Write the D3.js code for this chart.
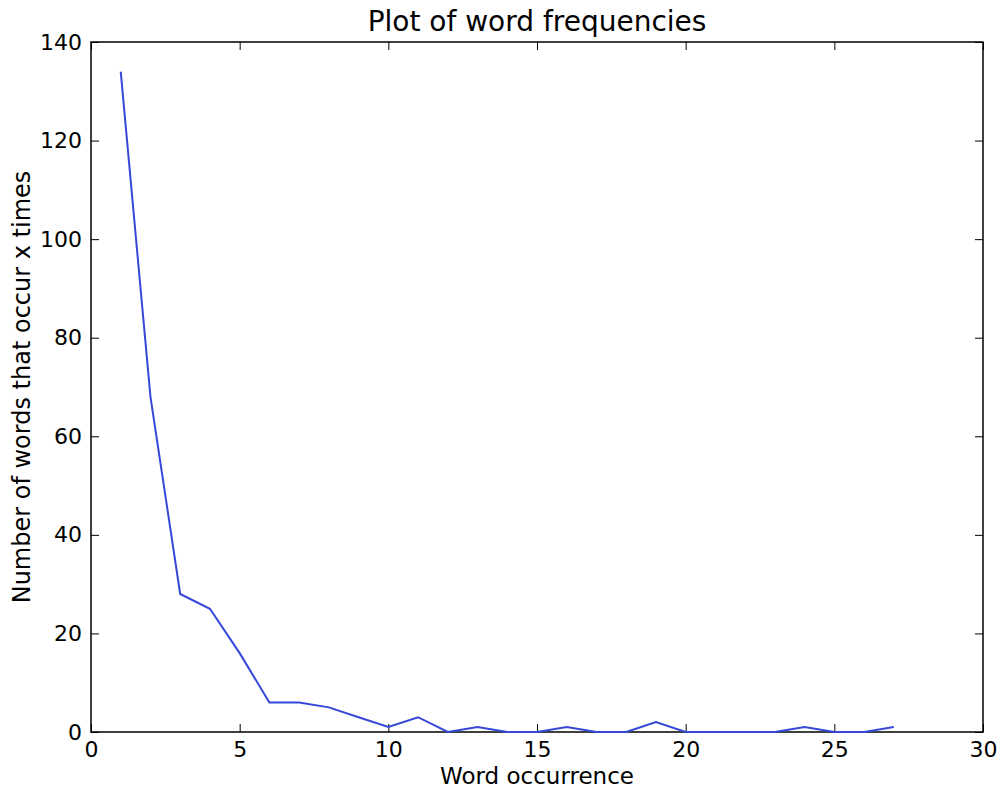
<!DOCTYPE html>
<html>
<head>
<meta charset="utf-8">
<script src="https://cdn.jsdelivr.net/npm/d3@7"></script>
<style>
  body { margin: 0; background: #fff; }
  text { font-family: "DejaVu Sans", sans-serif; fill: #000; }
  .axis path, .axis line { stroke: #000; }
</style>
</head>
<body>
<script>
// word occurrence (x) and how many words occur x times (y)
const occurrence = [1, 2, 3, 4, 5, 6, 7, 8, 9, 10, 11, 12, 13, 14, 15, 16, 17, 18, 19, 20, 21, 22, 23, 24, 25, 26, 27];
const wordCounts = [134, 68, 28, 25, 16, 6, 6, 5, 3, 1, 3, 0, 1, 0, 0, 1, 0, 0, 2, 0, 0, 0, 0, 1, 0, 0, 1];
const xTicks = [0, 5, 10, 15, 20, 25, 30];
const yTicks = [0, 20, 40, 60, 80, 100, 120, 140];

const W = 1000, H = 790;
const m = { top: 42, right: 17, bottom: 58, left: 91 };
const iw = W - m.left - m.right, ih = H - m.top - m.bottom;

const svg = d3.select("body").append("svg")
    .attr("width", W).attr("height", H);

const g = svg.append("g").attr("transform", `translate(${m.left},${m.top})`);

const x = d3.scaleLinear().domain([0, 30]).range([0, iw]);
const y = d3.scaleLinear().domain([0, 140]).range([ih, 0]);

// inward ticks on all four sides, labels only bottom/left
const tick = 8;
g.append("g").attr("class", "axis").attr("transform", `translate(0,${ih})`)
    .call(d3.axisBottom(x).tickValues(xTicks).tickSizeInner(-tick).tickSizeOuter(0).tickPadding(9))
    .call(a => a.selectAll("text").attr("font-size", 22));
g.append("g").attr("class", "axis")
    .call(d3.axisTop(x).tickValues(xTicks).tickSizeInner(-tick).tickSizeOuter(0).tickFormat(""));
g.append("g").attr("class", "axis")
    .call(d3.axisLeft(y).tickValues(yTicks).tickSizeInner(-tick).tickSizeOuter(0).tickPadding(9))
    .call(a => a.selectAll("text").attr("font-size", 22));
g.append("g").attr("class", "axis").attr("transform", `translate(${iw},0)`)
    .call(d3.axisRight(y).tickValues(yTicks).tickSizeInner(-tick).tickSizeOuter(0).tickFormat(""));
g.selectAll(".axis text").attr("font-family", "DejaVu Sans");
g.selectAll(".axis path").remove();

// frame
g.append("rect").attr("width", iw).attr("height", ih)
    .attr("fill", "none").attr("stroke", "#000").attr("stroke-width", 1.5);

// data line
const line = d3.line().x((d, i) => x(occurrence[i])).y(d => y(d));
g.append("path").datum(wordCounts)
    .attr("d", line)
    .attr("fill", "none")
    .attr("stroke", "#3548d8")
    .attr("stroke-width", 2);

// title and axis labels
svg.append("text").attr("x", m.left + iw / 2).attr("y", 31)
    .attr("text-anchor", "middle").attr("font-size", 28)
    .text("Plot of word frequencies");
svg.append("text").attr("x", m.left + iw / 2).attr("y", 784)
    .attr("text-anchor", "middle").attr("font-size", 23)
    .text("Word occurrence");
svg.append("text")
    .attr("transform", `translate(30,${m.top + ih / 2}) rotate(-90)`)
    .attr("text-anchor", "middle").attr("font-size", 24)
    .text("Number of words that occur x times");
</script>
</body>
</html>
